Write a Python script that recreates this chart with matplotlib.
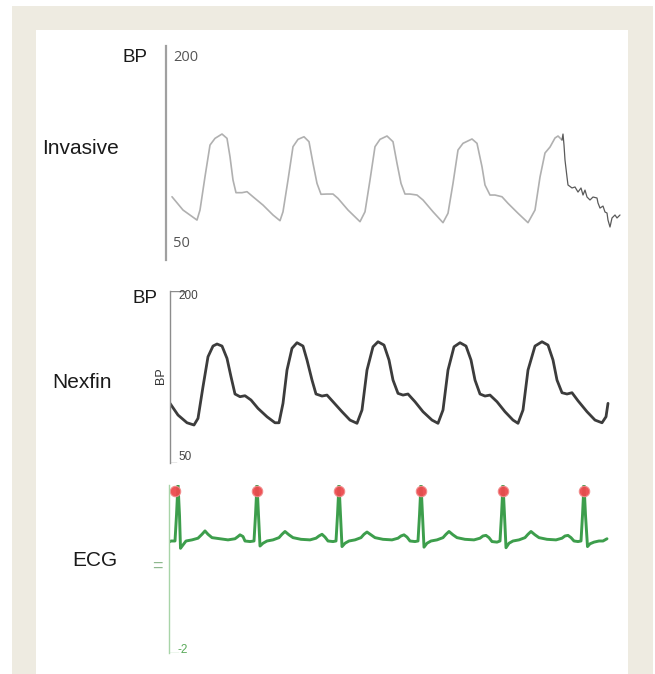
import matplotlib
matplotlib.use("Agg")
import matplotlib.pyplot as plt
from matplotlib.patches import Rectangle

# invasive arterial pressure (s, mmHg)
inv_t = [0.06, 0.17, 0.31, 0.34, 0.39, 0.44, 0.49, 0.56, 0.61, 0.64, 0.67, 0.70, 0.76, 0.81, 0.87, 0.97, 1.07, 1.14,
         1.17, 1.22, 1.27, 1.32, 1.38, 1.43, 1.47, 1.51, 1.55, 1.61, 1.67, 1.72, 1.82, 1.94,
         1.99, 2.04, 2.09, 2.14, 2.21, 2.27, 2.31, 2.35, 2.39, 2.44, 2.51, 2.57, 2.67, 2.77,
         2.82, 2.87, 2.92, 2.97, 3.06, 3.11, 3.16, 3.19, 3.24, 3.29, 3.36, 3.42, 3.52, 3.62,
         3.69, 3.74, 3.79, 3.84, 3.89, 3.92, 3.96]
inv_bp = [87.3, 76.6, 68.5, 76.6, 103.5, 129.0, 134.4, 137.9, 134.4, 119.6, 100.8, 90.6, 90.6, 91.4, 87.3, 80.6, 72.6, 68.0,
          75.2, 100.8, 127.7, 133.6, 135.7, 131.7, 114.3, 98.1, 89.3, 89.5, 89.5, 86.0, 76.6, 67.2,
          75.2, 100.8, 127.7, 133.6, 136.3, 131.7, 114.3, 98.1, 89.5, 89.5, 88.7, 84.7, 75.2, 66.4,
          74.0, 98.1, 125.0, 130.4, 133.9, 130.4, 111.5, 96.8, 88.7, 88.7, 87.3, 82.0, 74.0, 66.4,
          76.6, 103.2, 122.6, 127.4, 134.7, 136.3, 133.1]
# noisy end of the last invasive beat
inv_tail_t = [3.96, 3.97, 3.98, 3.99, 4.01, 4.02, 4.06, 4.09, 4.12, 4.15, 4.17, 4.19, 4.21, 4.24, 4.27, 4.31, 4.32,
              4.34, 4.37, 4.39, 4.41, 4.42, 4.44, 4.46, 4.49, 4.51, 4.54]
inv_tail_bp = [133.1, 137.9, 129.0, 116.9, 103.2, 96.8, 94.4, 95.2, 91.1, 94.4, 88.7, 92.7, 87.1, 84.7, 87.1, 86.3, 82.3,
               78.2, 79.8, 75.0, 74.2, 68.5, 62.9, 70.2, 72.6, 70.2, 72.6]

# Nexfin finger pressure (s, mmHg)
nex_t = [0.00, 0.08, 0.17, 0.24, 0.28, 0.33, 0.38, 0.43, 0.47, 0.52, 0.57, 0.61, 0.65, 0.70, 0.75, 0.81, 0.88, 0.97, 1.05, 1.09,
         1.13, 1.17, 1.22, 1.27, 1.33, 1.37, 1.42, 1.46, 1.52, 1.57, 1.63, 1.72, 1.80, 1.87,
         1.92, 1.97, 2.03, 2.08, 2.14, 2.19, 2.23, 2.28, 2.33, 2.38, 2.45, 2.53, 2.62, 2.68,
         2.73, 2.78, 2.84, 2.90, 2.96, 3.01, 3.05, 3.10, 3.15, 3.20, 3.27, 3.35, 3.43, 3.48,
         3.53, 3.58, 3.65, 3.72, 3.78, 3.83, 3.87, 3.92, 3.97, 4.02, 4.08, 4.17, 4.25, 4.32, 4.36, 4.38]
nex_bp = [100.0, 89.1, 81.9, 79.8, 86.0, 115.5, 143.4, 153.4, 155.3, 153.4, 141.9, 124.8, 108.7, 106.2, 107.1, 103.1, 95.3, 87.5, 81.9, 81.9,
          100.0, 131.0, 151.3, 156.5, 153.4, 140.4, 121.7, 108.7, 106.8, 107.7, 101.5, 92.2, 84.4, 81.4,
          93.8, 131.0, 152.7, 157.4, 154.3, 140.4, 121.7, 109.3, 107.7, 108.7, 101.5, 92.2, 84.4, 81.4,
          93.8, 131.0, 152.7, 156.5, 153.4, 140.4, 121.7, 108.7, 106.8, 107.7, 101.5, 92.2, 84.4, 81.4,
          93.8, 131.0, 153.4, 157.4, 154.3, 140.4, 121.7, 109.9, 108.7, 109.9, 102.4, 92.2, 84.4, 81.9, 87.5, 100.0]

# ECG (s, mV)
ecg_t = [0.00, 0.02, 0.06, 0.075, 0.09, 0.105, 0.115, 0.14, 0.17, 0.23, 0.29, 0.33, 0.36, 0.39, 0.43, 0.51, 0.59, 0.66,
         0.69, 0.71, 0.74, 0.76, 0.81, 0.85,
         0.865, 0.88, 0.895, 0.91, 0.94, 0.98, 1.04, 1.10, 1.13, 1.16, 1.20, 1.24, 1.32, 1.41, 1.47, 1.50, 1.53, 1.56,
         1.59, 1.64, 1.67,
         1.685, 1.70, 1.715, 1.73, 1.76, 1.80, 1.86, 1.92, 1.95, 1.98, 2.02, 2.06, 2.14, 2.23, 2.29, 2.32, 2.35, 2.38,
         2.41, 2.46, 2.49,
         2.505, 2.52, 2.535, 2.55, 2.58, 2.62, 2.68, 2.74, 2.77, 2.80, 2.84, 2.88, 2.96, 3.05, 3.11, 3.14, 3.17, 3.20,
         3.23, 3.28, 3.31,
         3.325, 3.34, 3.355, 3.37, 3.40, 3.44, 3.50, 3.56, 3.59, 3.62, 3.66, 3.70, 3.78, 3.87, 3.93, 3.96, 3.99, 4.02,
         4.05, 4.09, 4.12,
         4.135, 4.15, 4.165, 4.185, 4.21, 4.25, 4.30, 4.34, 4.38]
ecg_mv = [-0.02, 0.00, 0.00, 0.46, 1.02, 0.46, -0.13, -0.07, 0.00, 0.02, 0.05, 0.12, 0.18, 0.12, 0.06, 0.04, 0.02, 0.04,
          0.08, 0.11, 0.08, 0.00, -0.01, 0.00,
          0.46, 1.02, 0.46, -0.09, -0.04, 0.00, 0.02, 0.06, 0.12, 0.17, 0.11, 0.06, 0.03, 0.02, 0.05, 0.09, 0.12, 0.07,
          0.00, -0.01, 0.00,
          0.46, 1.02, 0.46, -0.10, -0.04, 0.00, 0.02, 0.06, 0.12, 0.16, 0.11, 0.06, 0.03, 0.02, 0.05, 0.09, 0.11, 0.07,
          0.00, -0.01, 0.00,
          0.46, 1.02, 0.46, -0.11, -0.04, 0.00, 0.02, 0.06, 0.12, 0.17, 0.11, 0.06, 0.03, 0.02, 0.05, 0.09, 0.10, 0.06,
          -0.01, -0.02, 0.00,
          0.46, 1.02, 0.46, -0.12, -0.04, 0.00, 0.02, 0.06, 0.12, 0.17, 0.11, 0.06, 0.03, 0.02, 0.05, 0.09, 0.10, 0.06,
          0.00, -0.01, 0.00,
          0.46, 1.02, 0.46, -0.10, -0.05, -0.02, 0.00, 0.00, 0.04]
r_t = [0.06, 0.88, 1.70, 2.52, 3.34, 4.15]
r_mv = [0.89, 0.89, 0.89, 0.89, 0.89, 0.89]

W, H = 655, 674


def fx(px):
    return px / W


def fy(py):
    return 1 - py / H


def axes_px(left, top, right, bottom):
    return [fx(left), fy(bottom), (right - left) / W, (bottom - top) / H]


def strip(ax, color, lw):
    for s in ["top", "right", "bottom"]:
        ax.spines[s].set_visible(False)
    ax.spines["left"].set_color(color)
    ax.spines["left"].set_linewidth(lw)
    ax.set_xticks([])
    ax.set_yticks([])
    ax.patch.set_alpha(0)


fig = plt.figure(figsize=(6.55, 6.74), dpi=100, facecolor="white")
fig.patches.append(Rectangle((fx(12), 0), (653 - 12) / W, fy(6), transform=fig.transFigure,
                             facecolor="#eeebe1", edgecolor="none", zorder=-10))
fig.patches.append(Rectangle((fx(36), 0), (628 - 36) / W, fy(30), transform=fig.transFigure,
                             facecolor="white", edgecolor="none", zorder=-9))

lab = dict(family="Liberation Sans", fontsize=15, color="#1a1a1a", va="center", ha="left")
line = dict(solid_joinstyle="round", solid_capstyle="round")

# invasive
ax1 = fig.add_axes(axes_px(166, 46, 625, 260))
strip(ax1, "#a0a0a0", 1.6)
ax1.set_xlim(0, 4.59)
ax1.set_ylim(36.3, 208.9)
ax1.plot(inv_t, inv_bp, color="#b0b0b0", lw=1.2, **line)
ax1.plot(inv_tail_t, inv_tail_bp, color="#5a5a5a", lw=0.9, **line)
ax1.text(0.07, 200, "200", family="Open Sans", fontsize=10.5, color="#555555", va="center")
ax1.text(0.07, 50, "50", family="Open Sans", fontsize=10.5, color="#555555", va="center")
fig.text(fx(122), fy(57), "BP", **dict(lab, fontsize=13.5))
fig.text(fx(42), fy(149), "Invasive", **lab)

# Nexfin
ax2 = fig.add_axes(axes_px(170, 291, 612, 463))
strip(ax2, "#8c8c8c", 1.0)
ax2.set_xlim(0, 4.42)
ax2.set_ylim(44.4, 204.7)
ax2.axhline(204.7, 0, 0.034, color="#8c8c8c", lw=1.0)
ax2.axhline(44.4, 0, 0.014, color="#8c8c8c", lw=1.0)
ax2.plot(nex_t, nex_bp, color="#3c3c3c", lw=2.0, **line)
ax2.text(0.08, 200, "200", family="Liberation Sans", fontsize=8.5, color="#444444", va="center")
ax2.text(0.08, 50, "50", family="Liberation Sans", fontsize=8.5, color="#444444", va="center")
fig.text(fx(161), fy(376), "BP", family="Liberation Sans", fontsize=9, color="#333333",
         rotation=90, ha="center", va="center")
fig.text(fx(132), fy(298), "BP", **dict(lab, fontsize=13.5))
fig.text(fx(52), fy(383), "Nexfin", **lab)

# ECG
ax3 = fig.add_axes(axes_px(169, 485, 612, 653))
strip(ax3, "#a8d4a8", 1.0)
ax3.set_xlim(0, 4.43)
ax3.set_ylim(-2.0, 1.0)
ax3.axhline(-2.0, 0, 0.02, color="#a8d4a8", lw=1.0)
ax3.plot(ecg_t, ecg_mv, color="#3d9e4c", lw=2.1, **line)
ax3.plot(r_t, r_mv, "o", ms=7.5, mfc="#ec4a4e", mec="#f08a8a", mew=0.8, alpha=0.95)
ax3.text(0.09, -1.95, "-2", family="Liberation Sans", fontsize=8.5, color="#5aaa5a", va="center")
fig.text(fx(152), fy(566), "=", family="Liberation Sans", fontsize=13, color="#8fb88f", va="center")
fig.text(fx(72), fy(561), "ECG", **lab)

fig.savefig("out.png", dpi=100, facecolor=fig.get_facecolor())
